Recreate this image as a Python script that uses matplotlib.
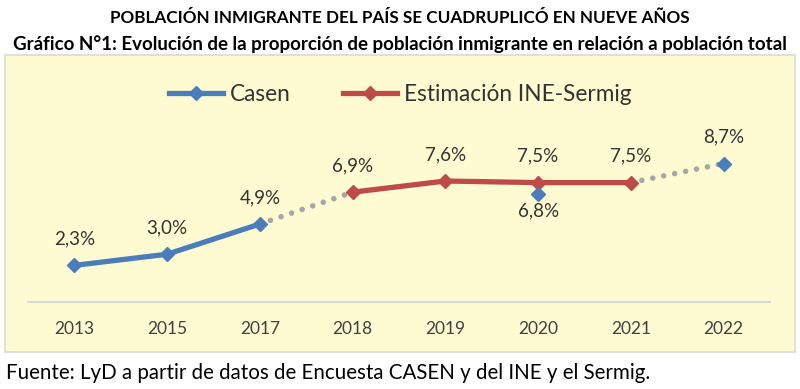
import numpy as np
import matplotlib
matplotlib.use("Agg")
import matplotlib.pyplot as plt
from matplotlib.patches import Rectangle

plt.rcParams['font.family'] = ['Lato', 'DejaVu Sans']

years = ['2013', '2015', '2017', '2018', '2019', '2020', '2021', '2022']
casen = [2.3, 3.0, 4.9, np.nan, np.nan, 6.8, np.nan, 8.7]
ine = [np.nan, np.nan, np.nan, 6.9, 7.6, 7.5, 7.5, np.nan]
# label offsets (points): positive above, negative below
casen_off = [19, 19, 19, 0, 0, -12, 0, 19]
ine_off = [0, 0, 0, 19, 19, 19, 19, 0]

bg = '#FEFBD2'
blue = '#4A7EBB'
red = '#BE4B48'
grey = '#A6A6A6'
txt = '#333333'

fig = plt.figure(figsize=(8, 3.89), dpi=100, facecolor='white')
fig.patches.append(Rectangle((0.006, 0.095), 0.988, 0.764, transform=fig.transFigure,
                             facecolor=bg, edgecolor='#D9D9D9', lw=1.2, zorder=-5))

ax = fig.add_axes([0.035, 0.2237, 0.9275, 0.491])
ax.set_facecolor('none')
ax.set_zorder(2)
x = np.arange(len(years))

# connecting dotted segments between series
dots = (0, (0.01, 2.0))
ax.plot([x[2], x[3]], [casen[2], ine[3]], linestyle=dots, color=grey, lw=4,
        dash_capstyle='round', zorder=1)
ax.plot([x[6], x[7]], [ine[6], casen[7]], linestyle=dots, color=grey, lw=4,
        dash_capstyle='round', zorder=1)

ax.plot(x, casen, '-D', color=blue, lw=3.8, ms=7, label='Casen', zorder=3)
ax.plot(x, ine, '-D', color=red, lw=3.8, ms=7, label='Estimación INE-Sermig', zorder=2)

for i in range(len(years)):
    for vals, offs in ((casen, casen_off), (ine, ine_off)):
        v = vals[i]
        if not np.isnan(v):
            ax.annotate(f"{v:.1f}%".replace('.', ','), (x[i], v), xytext=(0, offs[i]),
                        textcoords='offset points', ha='center', va='center',
                        fontsize=13.5, color=txt)

ax.set_xlim(-0.5, len(years) - 0.5)
ax.set_ylim(0, 12)
ax.set_xticks(x)
ax.set_xticklabels(years, fontsize=12.5, color='#404040')
ax.tick_params(axis='x', length=0, pad=14)
ax.set_yticks([])
for s in ['top', 'right', 'left']:
    ax.spines[s].set_visible(False)
ax.spines['bottom'].set_color('#D9D9D9')
ax.spines['bottom'].set_linewidth(1.5)

fig.legend(loc='center', bbox_to_anchor=(0.5, 0.756), ncol=2, frameon=False,
           fontsize=16.3, handlelength=2.4, columnspacing=2.3, handletextpad=0.3,
           labelcolor=txt)

fig.text(0.5, 0.953, 'POBLACIÓN INMIGRANTE DEL PAÍS SE CUADRUPLICÓ EN NUEVE AÑOS',
         ha='center', va='center', fontsize=12.3, fontweight='bold', color='black')
fig.text(0.5, 0.887, 'Gráfico N°1: Evolución de la proporción de población inmigrante en relación a población total',
         ha='center', va='center', fontsize=13.5, fontweight='bold', color='black')
fig.text(0.007, 0.04, 'Fuente: LyD a partir de datos de Encuesta CASEN y del INE y el Sermig.',
         ha='left', va='center', fontsize=14.8, color='black')

fig.savefig('out.png', dpi=100, facecolor='white')
